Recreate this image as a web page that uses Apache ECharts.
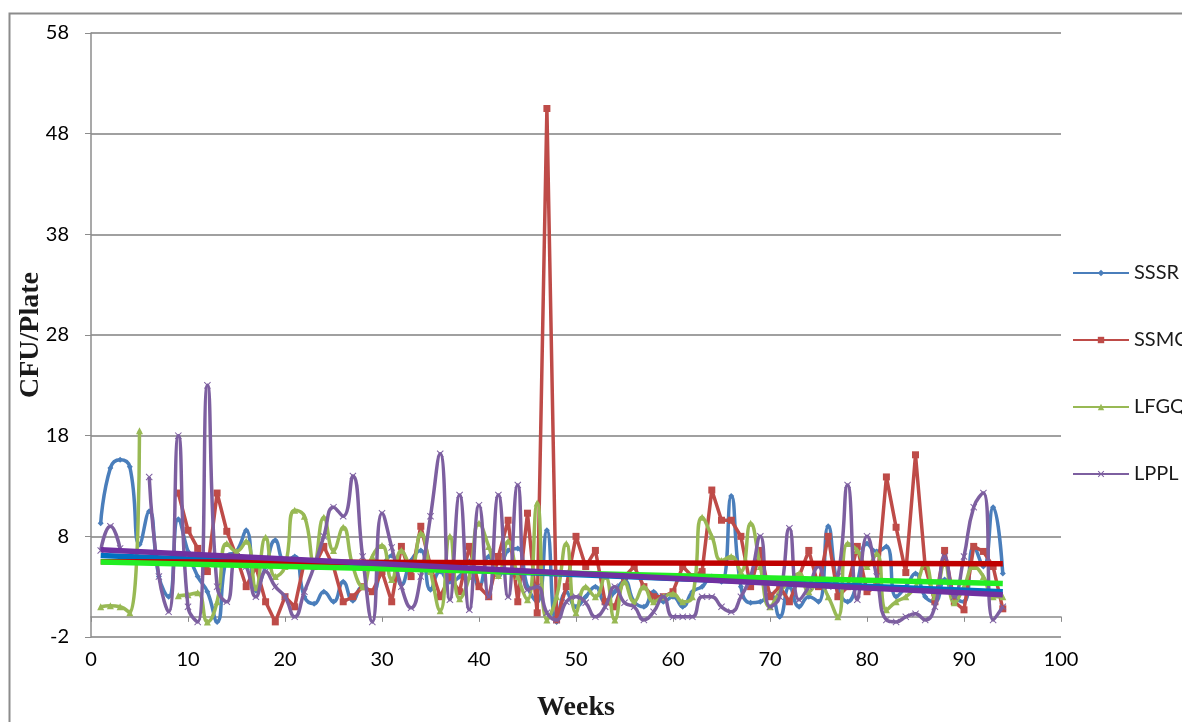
<!DOCTYPE html>
<html><head><meta charset="utf-8">
<script src="https://cdn.jsdelivr.net/npm/echarts@6/dist/echarts.min.js"></script>
<style>html,body{margin:0;padding:0;background:#fff}#c{width:1182px;height:722px}</style>
</head><body><div id="c"></div>
<script>
const seriesNames = ['SSSR', 'SSMC', 'LFGQ', 'LPPL'];
const xAxisTitle = 'Weeks';
const yAxisTitle = 'CFU/Plate';
const weeks = Array.from({length: 94}, (_, i) => i + 1);

const sssr = [9.3,14.8,15.6,14.9,7.2,10.5,4,2,9.7,6.5,4,2.5,-0.5,6,6.5,8.6,2.6,5,7.6,5.5,
  6,2,1.3,2.5,1.5,3.5,1.6,3,2.5,5,6.1,3.2,5.6,6.6,2.7,4.5,3.5,4,5.5,3,
  6,4,6.6,6.8,3,1.5,8.6,-0.5,2.5,1,2,3,1.5,2.5,3.6,1.5,1,2.5,1.5,2,
  1,2.5,3,4,3.5,12,3,1.4,1.5,2.3,0,3,1,2,1.5,9,3,1.5,3.5,7.3,
  6.5,7,2,3,4.3,2,1.5,3.7,2,1.5,7,5,10.9,4.3];

const ssmc = [null,null,null,null,null,null,null,null,12.3,8.6,6.8,4.5,12.3,8.5,6,3,5,1.5,-0.5,2,
  1,5.5,5,7,5,1.5,2,3,2.5,4.5,1.5,7,4,9,5,2,4,2.5,7,3,
  2,6,9.6,1.5,10.3,0.4,50.5,-0.3,3,8,5,6.6,1.5,1,4,5,3,2,2,2.5,
  5,4,4.5,12.6,9.6,9.6,8,3,6.6,2,3,1.5,4,6.6,3,8,2,3,7,2.5,
  3,13.9,8.9,4.4,16.1,5,1.5,6.6,1.5,0.7,7,6.5,5,0.8];

const lfgq = [1.0,1.1,1.0,0.4,18.5,null,null,null,2.1,2.2,2.4,-0.5,1.5,7.3,6.5,7.5,2.9,7.9,4,5,
  10.6,10,5.4,9.9,6.6,8.9,5,3,6,7.1,3.7,6.6,5,8.3,4.5,0.6,8,1.8,4,9.3,
  7,4.1,7.5,4,1.7,11.3,-0.3,2,7.3,0.4,3,2,4,-0.3,3.5,1.5,3,1.5,2,2.3,
  1.5,2,9.9,8,5.6,6,4.5,9.3,5,1,2.5,3.5,4.3,2.5,3.5,2,0,7.3,6.6,5,
  6.3,0.7,1.5,2,3,5.3,2,5.3,1.4,3,5,4,2,2];

const lppl = [6.6,9,6.8,null,null,13.9,4,0.5,18,1,-0.5,23,3,1.5,6,5,2,4.5,3,2,
  0,2.5,5,8,10.9,10,14,6,-0.5,10.3,6.9,3,0.9,4,10,16.2,1.7,12.1,0.7,11.1,
  2,12.1,2,13.1,2.7,3,0.4,-0.3,1.5,2,1.4,0,1,3,1.4,1,-0.3,0.5,2,0,
  0,0,2,2,1,0.5,2,4,8,1,2,8.8,1.7,3,5,3,4,13.1,1.7,8,
  4,-0.3,-0.5,0,0.3,-0.3,1,6,2,6,10.9,12.3,-0.3,1];

const seriesValues = [sssr, ssmc, lfgq, lppl];
const lineColors = ['#4A7EBB', '#BE4B48', '#98B954', '#7D5FA0'];
const trendColors = ['#0070C0', '#C00000', '#22EE22', '#7030A0'];
const symbols = ['diamond', 'rect', 'triangle',
  'path://M0,1L1,0L5,4L9,0L10,1L6,5L10,9L9,10L5,6L1,10L0,9L4,5Z'];
const symbolSizes = [6, 7, 7, 7];
const smoothFlags = [0.5, false, 0.5, 0.5];

function pairs(vals) {
  return vals.map((v, i) => [weeks[i], v === null ? '-' : v]);
}
function trend(vals) {
  const pts = [];
  vals.forEach((v, i) => { if (v !== null) pts.push([weeks[i], v]); });
  const n = pts.length;
  let sx = 0, sy = 0, sxx = 0, sxy = 0;
  pts.forEach(([x, y]) => { sx += x; sy += y; sxx += x * x; sxy += x * y; });
  const b = (n * sxy - sx * sy) / (n * sxx - sx * sx);
  const a = (sy - b * sx) / n;
  const x0 = weeks[0], x1 = weeks[weeks.length - 1];
  return [[x0, a + b * x0], [x1, a + b * x1]];
}

const series = [];
seriesNames.forEach((name, i) => {
  series.push({
    name: name, type: 'line', data: pairs(seriesValues[i]),
    smooth: smoothFlags[i], connectNulls: false,
    symbol: symbols[i], symbolSize: symbolSizes[i], showSymbol: true,
    lineStyle: {color: lineColors[i], width: 3.5},
    itemStyle: {color: lineColors[i]},
    z: 2 + i, animation: false
  });
});
seriesNames.forEach((name, i) => {
  series.push({
    name: 'Linear (' + name + ')', type: 'line', data: trend(seriesValues[i]),
    symbol: 'none', silent: true,
    lineStyle: {color: trendColors[i], width: 5.5},
    itemStyle: {color: trendColors[i]},
    z: 10 + i, animation: false
  });
});

const legends = seriesNames.map((name, i) => ({
  data: [name], orient: 'vertical', left: 1067, top: 258 + i * 67,
  itemWidth: 56, itemHeight: 8, itemGap: 0,
  lineStyle: {width: 2},
  textStyle: {fontFamily: 'Lato', fontSize: 20, color: '#1a1a1a', padding: [0, 0, 0, 0]},
  selectedMode: false
}));

const chart = echarts.init(document.getElementById('c'), null, {renderer: 'canvas'});
chart.setOption({
  animation: false,
  backgroundColor: '#ffffff',
  graphic: [{
    type: 'rect', left: 7, top: 11, silent: true,
    shape: {width: 1200, height: 800},
    style: {fill: null, stroke: '#8c8c8c', lineWidth: 2}, z: -1
  }],
  grid: {left: 91, right: 121, top: 33, bottom: 85, containLabel: false, outerBoundsMode: 'none'},
  legend: legends,
  xAxis: {
    type: 'value', min: 0, max: 100, interval: 10,
    name: xAxisTitle, nameLocation: 'middle', nameGap: 57, nameMoveOverlap: false,
    nameTextStyle: {fontFamily: 'Liberation Serif', fontWeight: 'bold', fontSize: 28, color: '#1a1a1a'},
    axisLine: {show: true, onZero: true, lineStyle: {color: '#8c8c8c', width: 1.5}},
    axisTick: {show: true, length: 5, lineStyle: {color: '#8c8c8c'}},
    axisLabel: {fontFamily: 'Lato', fontSize: 20, color: '#000', margin: 13},
    splitLine: {show: false}
  },
  yAxis: {
    type: 'value', min: -2, max: 58, interval: 10,
    name: yAxisTitle, nameLocation: 'middle', nameGap: 46, nameRotate: 90, nameMoveOverlap: false,
    nameTextStyle: {fontFamily: 'Liberation Serif', fontWeight: 'bold', fontSize: 28, color: '#1a1a1a'},
    axisLine: {show: true, lineStyle: {color: '#8c8c8c', width: 1.5}},
    axisTick: {show: true, length: 6, lineStyle: {color: '#8c8c8c'}},
    axisLabel: {fontFamily: 'Lato', fontSize: 20, color: '#000', margin: 22},
    splitLine: {show: true, lineStyle: {color: '#a0a0a0', width: 2}}
  },
  series: series
});
</script>
</body></html>
